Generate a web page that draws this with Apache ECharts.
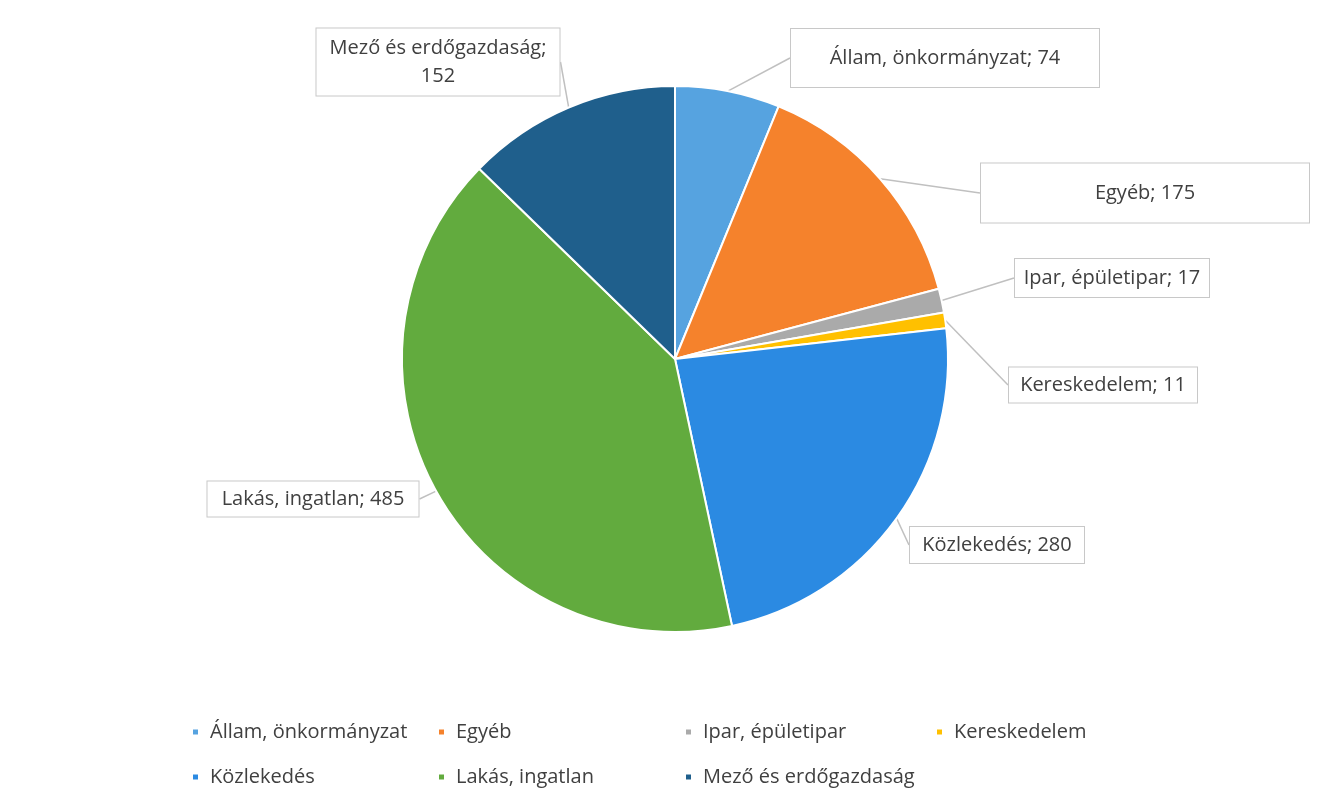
<!DOCTYPE html>
<html><head><meta charset="utf-8">
<script src="https://cdn.jsdelivr.net/npm/echarts@6/dist/echarts.min.js"></script>
<style>html,body{margin:0;padding:0;background:#fff}#c{width:1327px;height:807px}</style>
</head><body><div id="c"></div>
<script>
const categories = ['Állam, önkormányzat','Egyéb','Ipar, épületipar','Kereskedelem','Közlekedés','Lakás, ingatlan','Mező és erdőgazdaság'];
const values = [74,175,17,11,280,485,152];
const colors = ['#56a3e0','#f5822c','#aaaaaa','#ffc000','#2b8ae2','#62ab3e','#1f5f8c'];
// label callout placement (center x, center y, box width, box height)
const labelBoxes = [
  [945,58,310,60],
  [1145,193,330,61],
  [1112,278,196,40],
  [1103,385,190,37],
  [997,545,176,38],
  [313,499,213,37],
  [438,62,245,69]
];
const FONT = '"Open Sans", Lato, sans-serif';
const chart = echarts.init(document.getElementById('c'));
const data = categories.map((n,i)=>({
  name:n, value:values[i],
  label:{width:labelBoxes[i][2]-2, height:labelBoxes[i][3]-2}
}));
const legendCols = [[0,4],[1,5],[2,6],[3]];
const legendX = [186,432,679,930];
const legends = legendCols.map((idx,k)=>({
  orient:'vertical', left:legendX[k], top:715, itemGap:21,
  itemWidth:7, itemHeight:7, icon:'rect',
  data:idx.map(i=>categories[i]),
  textStyle:{color:'#404040', fontSize:20, fontFamily:FONT, lineHeight:24, padding:[0,0,0,6]}
}));
chart.setOption({
  animation:false,
  color:colors,
  legend:legends,
  series:[{
    type:'pie',
    center:[675,359],
    radius:273,
    startAngle:90,
    clockwise:true,
    avoidLabelOverlap:false,
    itemStyle:{borderColor:'#fff', borderWidth:2},
    label:{
      show:true,
      formatter:p=> p.dataIndex===6 ? p.name+';\n'+p.value : p.name+'; '+p.value,
      color:'#404040', fontSize:20, fontFamily:FONT, lineHeight:28,
      backgroundColor:'#fff', borderColor:'#c8c8c8', borderWidth:1,
      align:'center', verticalAlign:'middle'
    },
    labelLine:{show:true, lineStyle:{color:'#c0c0c0', width:1.5}, length:4, length2:0},
    labelLayout:function(p){
      const b = labelBoxes[p.dataIndex];
      return {x:b[0], y:b[1], align:'center', verticalAlign:'middle'};
    },
    data:data
  }]
});
</script></body></html>
